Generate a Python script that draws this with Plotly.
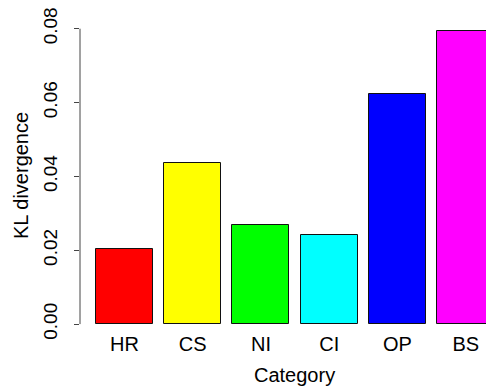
import plotly.graph_objects as go

categories = ["HR", "CS", "NI", "CI", "OP", "BS"]
values = [0.0204, 0.0436, 0.0268, 0.0242, 0.0622, 0.0795]
colors = ["#FF0000", "#FFFF00", "#00FF00", "#00FFFF", "#0000FF", "#FF00FF"]
y_ticks = [0.00, 0.02, 0.04, 0.06, 0.08]
y_ticktext = ["0.00", "0.02", "0.04", "0.06", "0.08"]

# R barplot positions: width 1, space 0.2
positions = [0.7 + 1.2 * i for i in range(len(categories))]

FONT = "Liberation Sans, Arial, Helvetica, sans-serif"
AXC = "#444444"

fig = go.Figure(go.Bar(
    x=positions, y=values, width=1.0,
    marker=dict(color=colors, line=dict(color="#111111", width=1)),
    hoverinfo="skip",
))

# page has an 8px body margin; figure is sized to fill the rest
fig.update_layout(
    width=486, height=379,
    margin=dict(l=72, r=0, t=10, b=57),
    plot_bgcolor="white", paper_bgcolor="white",
    showlegend=False,
    font=dict(family=FONT, size=20, color="black"),
    bargap=0,
)
fig.update_xaxes(
    range=[-0.08, 7.196], tickvals=positions, ticktext=categories,
    ticks="", showgrid=False, zeroline=False, showline=False,
    tickfont=dict(size=20), ticklabelstandoff=0, automargin=False,
)
fig.update_yaxes(
    range=[-0.0016, 0.0829], tickvals=y_ticks, ticktext=y_ticktext,
    ticks="outside", ticklen=5, tickcolor=AXC, tickwidth=1,
    showgrid=False, zeroline=False, showline=False,
    tickangle=-90, tickfont=dict(size=19), ticklabelstandoff=9,
    ticklabeloverflow="allow", automargin=False,
)
# R-style axis line spanning only the tick range
fig.add_shape(type="line", xref="paper", yref="y", x0=0, x1=0,
              y0=y_ticks[0], y1=y_ticks[-1], line=dict(color=AXC, width=1))

fig.add_annotation(text="Category", xref="paper", yref="paper",
                   x=(294 - 80) / 414, y=(330 - 375) / 312,
                   xanchor="center", yanchor="middle", showarrow=False,
                   font=dict(size=20))
fig.add_annotation(text="KL divergence", xref="paper", yref="paper",
                   x=(21 - 80) / 414, y=(330 - 176) / 312,
                   xanchor="center", yanchor="middle", textangle=-90,
                   showarrow=False, font=dict(size=20))

fig.write_html("out.html")
